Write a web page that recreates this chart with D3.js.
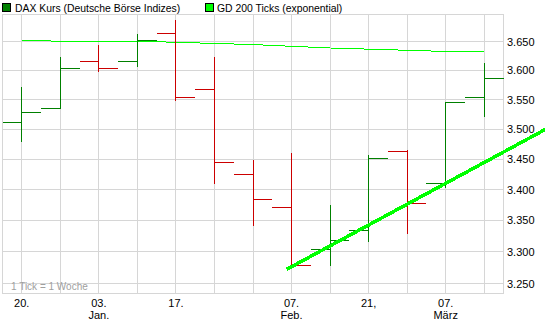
<!DOCTYPE html>
<html>
<head>
<meta charset="utf-8">
<script src="https://cdn.jsdelivr.net/npm/d3@7"></script>
<style>
  body { margin: 0; background: #fff; }
  svg { display: block; font-family: "Liberation Sans", Arial, sans-serif; }
</style>
</head>
<body>
<svg id="chart" width="545" height="325"></svg>
<script>
// weekly bars, one per week (open / high / low / close)
var weeks = ["2010-12-20", "2010-12-27", "2011-01-03", "2011-01-10", "2011-01-17", "2011-01-24", "2011-01-31",
             "2011-02-07", "2011-02-14", "2011-02-21", "2011-02-28", "2011-03-07", "2011-03-14"]
var open  = [3511, 3535, 3615, 3615, 3664, 3567, 3424, 3371, 3304, 3334, 3463, 3410, 3553]
var high  = [3571, 3623, 3645, 3664, 3688, 3623, 3449, 3460, 3374, 3456, 3465, 3546, 3613]
var low   = [3478, 3535, 3598, 3606, 3548, 3409, 3341, 3278, 3278, 3316, 3328, 3403, 3520]
var close = [3528, 3603, 3603, 3652, 3553, 3444, 3384, 3278, 3318, 3451, 3377, 3545, 3586]

// GD 200 (exponential)
var gd200 = [3652, 3651, 3651, 3651, 3649, 3647, 3645, 3642, 3639, 3637, 3635, 3633, 3633]

// hand drawn trend line (week index, value)
var trendIdx = [6.87, 13.6]
var trendVal = [3272, 3500]

// axis labels
var yTicks = [3250, 3300, 3350, 3400, 3450, 3500, 3550, 3600, 3650]
var xTickIdx = [0, 2, 4, 7, 9, 11]
var xTickDay = ["20.", "03.", "17.", "07.", "21,", "07."]
var xTickMonth = ["", "Jan.", "", "Feb.", "", "März"]

var svg = d3.select("#chart")

var plotL = 2.5, plotR = 503.5, plotT = 14.5, plotB = 293.5

var x = d3.scaleLinear().domain([-0.5, weeks.length - 0.5]).range([plotL, plotR])
var y = d3.scaleLog().domain([3234.4, 3698]).range([plotB, plotT])

var de = d3.formatLocale({decimal: ",", thousands: ".", grouping: [3], currency: ["", " €"]})
var fmt = de.format(",")

var crisp = function (v) { return Math.round(v - 0.5) + 0.5 }
var gridColor = "#d6d6d6"

// grid
svg.append("g").selectAll("line").data(yTicks).join("line")
  .attr("x1", plotL).attr("x2", plotR)
  .attr("y1", d => crisp(y(d))).attr("y2", d => crisp(y(d)))
  .style("stroke", gridColor)
svg.append("g").selectAll("line").data(d3.range(weeks.length)).join("line")
  .attr("x1", d => crisp(x(d))).attr("x2", d => crisp(x(d)))
  .attr("y1", plotT).attr("y2", plotB)
  .style("stroke", gridColor)
svg.append("rect").attr("x", plotL).attr("y", plotT).attr("width", plotR - plotL).attr("height", plotB - plotT)
  .style("fill", "none").style("stroke", gridColor)

svg.append("text").attr("x", 11).attr("y", 290).text("1 Tick = 1 Woche")
  .style("font-size", "10px").style("fill", "#a0a0a0")

// GD 200 line
svg.append("path").datum(gd200)
  .attr("d", d3.line().x((d, i) => x(i)).y(d => y(d)))
  .style("fill", "none").style("stroke", "#00ff00").style("stroke-width", 1)
  .attr("shape-rendering", "crispEdges")

// bars
var half = x(0.5) - x(0)
var bars = svg.append("g").selectAll("g").data(weeks).join("g")
  .style("stroke", (d, i) => close[i] >= open[i] ? "#008000" : "#cc0000")
  .attr("shape-rendering", "crispEdges")
bars.append("line")
  .attr("x1", (d, i) => crisp(x(i))).attr("x2", (d, i) => crisp(x(i)))
  .attr("y1", (d, i) => y(high[i])).attr("y2", (d, i) => y(low[i]))
bars.append("line")
  .attr("x1", (d, i) => x(i) - half).attr("x2", (d, i) => crisp(x(i)))
  .attr("y1", (d, i) => crisp(y(open[i]))).attr("y2", (d, i) => crisp(y(open[i])))
bars.append("line")
  .attr("x1", (d, i) => crisp(x(i))).attr("x2", (d, i) => x(i) + half)
  .attr("y1", (d, i) => crisp(y(close[i]))).attr("y2", (d, i) => crisp(y(close[i])))

// trend line
svg.append("path").datum(d3.zip(trendIdx, trendVal))
  .attr("d", d3.line().x(d => x(d[0])).y(d => y(d[1])))
  .style("fill", "none").style("stroke", "#00ff00").style("stroke-width", 3.5)
  .attr("shape-rendering", "crispEdges")

// y axis
var yAxis = svg.append("g").attr("transform", "translate(" + plotR + ",0)")
  .call(d3.axisRight(y).tickValues(yTicks).tickFormat(fmt).tickSize(0).tickPadding(3.5))
yAxis.select(".domain").remove()
yAxis.selectAll("text").style("font-size", "11px").style("fill", "#000").style("font-family", null)

// x axis
var xl = svg.append("g").selectAll("text").data(xTickIdx).join("text")
  .attr("x", d => x(d)).attr("y", 306.5)
  .attr("text-anchor", "middle").style("font-size", "11px")
xl.append("tspan").attr("x", d => x(d)).text((d, i) => xTickDay[i])
xl.append("tspan").attr("x", d => x(d)).attr("dy", 12).text((d, i) => xTickMonth[i])

// legend
svg.append("rect").attr("x", 2.5).attr("y", 3.5).attr("width", 8).attr("height", 8).style("fill", "#008000").style("stroke", "#000")
svg.append("text").attr("x", 15).attr("y", 11.5).text("DAX Kurs (Deutsche Börse Indizes)").style("font-size", "10.4px")
svg.append("rect").attr("x", 205.5).attr("y", 3.5).attr("width", 8).attr("height", 8).style("fill", "#00ff00").style("stroke", "#000")
svg.append("text").attr("x", 217).attr("y", 11.5).text("GD 200 Ticks (exponential)").style("font-size", "10.4px")
</script>
</body>
</html>
